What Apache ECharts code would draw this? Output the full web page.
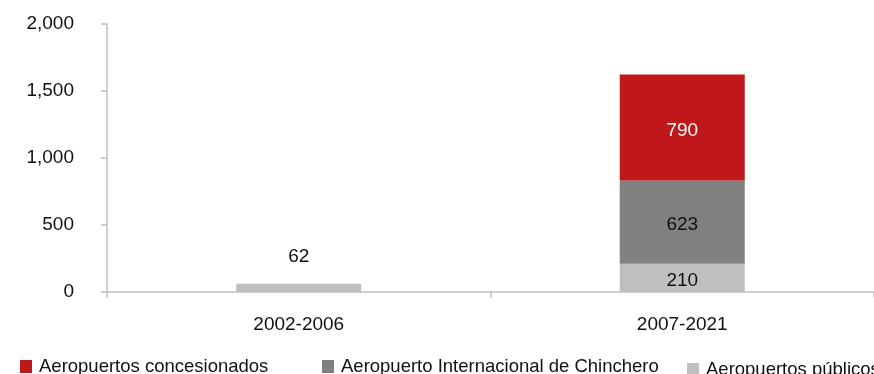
<!DOCTYPE html>
<html>
<head>
<meta charset="utf-8">
<script src="https://cdn.jsdelivr.net/npm/echarts@6/dist/echarts.min.js"></script>
<style>
  html, body { margin: 0; padding: 0; background: #fff; }
  #chart { width: 874px; height: 374px; }
</style>
</head>
<body>
<div id="chart"></div>
<script>
// Periods on the horizontal axis
const categories = ['2002-2006', '2007-2021'];

// Investment by airport group (stacked)
const publicos = [62, 210];
const chinchero = [null, 623];
const concesionados = [null, 790];

const seriesNames = ['Aeropuertos concesionados', 'Aeropuerto Internacional de Chinchero', 'Aeropuertos públicos'];

const yTicks = { min: 0, max: 2000, interval: 500 };

const FONT = 'Liberation Sans, Arial, sans-serif';
const axisGray = '#bfbfbf';

const chart = echarts.init(document.getElementById('chart'));

function legendFor(name, left, top) {
  return {
    data: [name],
    left: left,
    top: top,
    itemWidth: 12,
    itemHeight: 13,
    itemGap: 0,
    icon: 'rect',
    textStyle: { fontFamily: FONT, fontSize: 18.5, color: '#111', padding: [0, 0, 0, 2] },
    padding: 0
  };
}

const insideLabel = (color) => ({
  show: true, position: 'inside', offset: [0, 3],
  fontFamily: FONT, fontSize: 19, color: color
});

chart.setOption({
  animation: false,
  grid: { left: 107, right: -1, top: 24, bottom: 82 },
  legend: [
    legendFor(seriesNames[0], 20, 357),
    legendFor(seriesNames[1], 322, 357),
    legendFor(seriesNames[2], 687, 360)
  ],
  xAxis: {
    type: 'category',
    data: categories,
    axisLine: { lineStyle: { color: axisGray, width: 1.5 } },
    axisTick: { show: true, length: 6, lineStyle: { color: axisGray, width: 1.5 } },
    axisLabel: { fontFamily: FONT, fontSize: 19, color: '#111', margin: 23 }
  },
  yAxis: {
    type: 'value',
    min: yTicks.min,
    max: yTicks.max,
    interval: yTicks.interval,
    splitLine: { show: false },
    axisLine: { show: true, lineStyle: { color: axisGray, width: 1.5 } },
    axisTick: { show: true, length: 6, lineStyle: { color: axisGray, width: 1.5 } },
    axisLabel: {
      fontFamily: FONT, fontSize: 19, color: '#111', margin: 33,
      formatter: v => v.toLocaleString('en-US')
    }
  },
  series: [
    {
      name: seriesNames[2],
      type: 'bar',
      stack: 'total',
      data: [
        { value: publicos[0], label: { position: 'top', distance: 17, offset: [0, 0] } },
        publicos[1]
      ],
      barWidth: '32.6%',
      itemStyle: { color: '#bfbfbf' },
      label: insideLabel('#111')
    },
    {
      name: seriesNames[1],
      type: 'bar',
      stack: 'total',
      data: chinchero,
      barWidth: '32.6%',
      itemStyle: { color: '#808080' },
      label: insideLabel('#111')
    },
    {
      name: seriesNames[0],
      type: 'bar',
      stack: 'total',
      data: concesionados,
      barWidth: '32.6%',
      itemStyle: { color: '#c0181a' },
      label: insideLabel('#fff')
    }
  ]
});
</script>
</body>
</html>
